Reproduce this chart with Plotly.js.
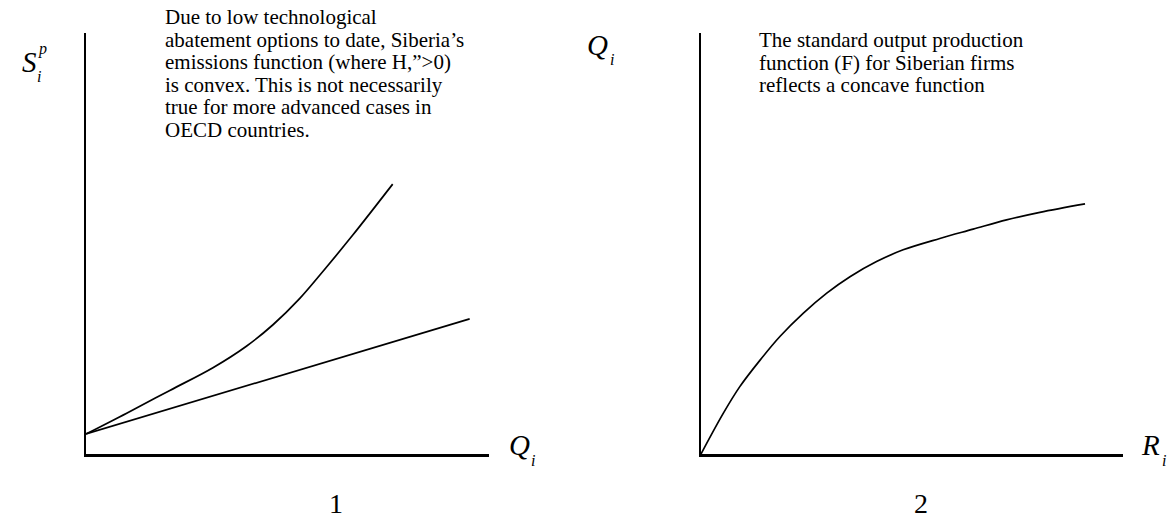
<!DOCTYPE html>
<html>
<head>
<meta charset="utf-8">
<script src="https://cdn.plot.ly/plotly-3.0.1.min.js"></script>
<style>
  html, body { margin: 0; padding: 0; background: #ffffff; }
  #chart { width: 1173px; height: 523px; }
</style>
</head>
<body>
<div id="chart"></div>
<script>
// Panel 1: emissions S_i^p against output Q_i
const emissionsQ      = [0, 10.1, 20.8, 31.5, 39.8, 46.4, 53.0, 59.6, 66.2, 76.1];
const emissionsConvex = [4.75, 9.7, 15.1, 20.5, 25.6, 30.7, 36.9, 44.3, 52.0, 64.1];
const linearQ         = [0, 95.2];
const emissionsLinear = [4.75, 32.1];

// Panel 2: output Q_i against resource input R_i
const inputR      = [0, 5.3, 9.2, 14.0, 18.7, 24.2, 29.8, 35.3, 41.6, 47.9, 56.6, 64.5, 72.4, 80.3, 91.0];
const outputConc  = [0, 9.7, 16.0, 22.3, 27.9, 33.4, 38.2, 42.1, 45.7, 48.5, 51.2, 53.4, 55.6, 57.4, 59.4];

// Notes and labels
const noteLeft = [
  "Due to low technological",
  "abatement options to date, Siberia\u2019s",
  "emissions function (where H,\u201d>0)",
  "is convex. This is not necessarily",
  "true for more advanced cases in",
  "OECD countries."
];
const noteRight = [
  "The standard output production",
  "function (F) for Siberian firms",
  "reflects a concave function"
];
const panelNumbers = ["1", "2"];

const W = 1173, H = 523;
const px = x => x / W;
const py = y => 1 - y / H;
const SERIF = "Liberation Serif, Times New Roman, serif";

const curve = { color: "#000000", width: 1.7 };

const traces = [
  { x: emissionsQ, y: emissionsConvex, mode: "lines", line: Object.assign({ shape: "spline" }, curve), xaxis: "x", yaxis: "y", hoverinfo: "skip" },
  { x: linearQ, y: emissionsLinear, mode: "lines", line: curve, xaxis: "x", yaxis: "y", hoverinfo: "skip" },
  { x: inputR, y: outputConc, mode: "lines", line: Object.assign({ shape: "spline" }, curve), xaxis: "x2", yaxis: "y2", hoverinfo: "skip" }
];

function axis(domain, anchor) {
  return {
    domain: domain, anchor: anchor, range: [0, 100],
    showline: true, linecolor: "#000000", linewidth: 2.5,
    showgrid: false, zeroline: false, showticklabels: false, ticks: "",
    fixedrange: true
  };
}

const ann = [];
function label(text, x, y, size, opts) {
  ann.push(Object.assign({
    text: text, x: px(x), y: py(y), xref: "paper", yref: "paper",
    xanchor: "center", yanchor: "middle", showarrow: false,
    font: { family: SERIF, size: size, color: "#000000" }
  }, opts || {}));
}

// Note lines
const noteStep = 22.6;
noteLeft.forEach((t, k) => label(t, 163, 17 + noteStep * k, 21, { xanchor: "left" }));
noteRight.forEach((t, k) => label(t, 757, 40 + noteStep * k, 21, { xanchor: "left" }));

// Axis letters
label("<i>S</i>", 29, 62, 29);
label("<i>p</i>", 42, 49, 16);
label("<i>i</i>", 39, 76, 16);
label("<i>Q</i>", 519, 445, 29);
label("<i>i</i>", 533, 460, 16);
label("<i>Q</i>", 597, 45, 29);
label("<i>i</i>", 612, 59, 16);
label("<i>R</i>", 1150, 445, 29);
label("<i>i</i>", 1164, 460, 16);

// Panel numbers
label(panelNumbers[0], 336, 503, 28);
label(panelNumbers[1], 921, 503, 28);

const layout = {
  width: W, height: H,
  margin: { l: 0, r: 0, t: 0, b: 0 },
  paper_bgcolor: "#ffffff", plot_bgcolor: "#ffffff",
  showlegend: false,
  xaxis:  axis([px(86), px(489)], "y"),
  yaxis:  axis([py(454), py(33)], "x"),
  xaxis2: axis([px(701), px(1123)], "y2"),
  yaxis2: axis([py(454), py(33)], "x2"),
  annotations: ann
};

Plotly.newPlot("chart", traces, layout, { staticPlot: true, displayModeBar: false });
</script>
</body>
</html>
